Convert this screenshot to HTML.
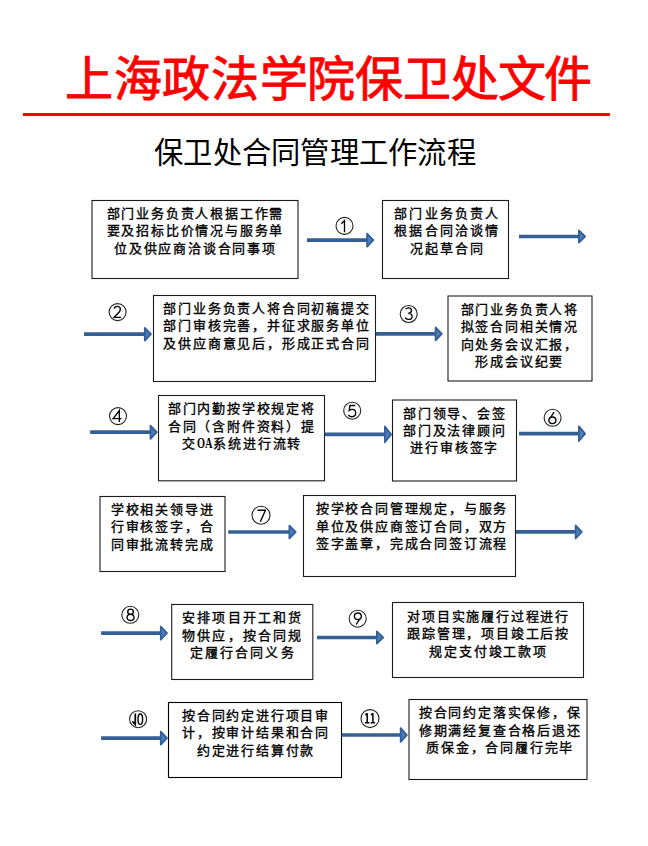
<!DOCTYPE html>
<html lang="zh-CN"><head><meta charset="utf-8"><title>保卫处合同管理工作流程</title>
<style>
html,body{margin:0;padding:0;background:#fff;}
body{width:648px;height:846px;position:relative;overflow:hidden;font-family:"Liberation Serif",serif;}
#title{position:absolute;left:64px;top:50px;font-size:48px;line-height:60px;color:#f00;font-weight:normal;-webkit-text-stroke:0.9px #f00;font-family:"Liberation Serif",serif;white-space:nowrap;}
#rule{position:absolute;left:23px;top:113px;width:587px;height:3px;background:#f00;}
#sub{position:absolute;left:154px;top:135px;letter-spacing:0.25px;font-size:29.33px;line-height:36px;color:#000;font-family:"Liberation Sans",sans-serif;white-space:nowrap;}
.txt{position:absolute;font-size:13.00px;line-height:17.40px;font-weight:400;letter-spacing:1.8px;-webkit-text-stroke:0.35px #000;text-align:center;color:#000;white-space:nowrap;font-family:"Liberation Serif",serif;}
svg{position:absolute;left:0;top:0;}
.oa{display:inline-block;width:17px;letter-spacing:0;vertical-align:top;overflow:visible;white-space:nowrap;text-align:left;}
.oa span{display:inline-block;font-family:"Liberation Serif",serif;font-weight:bold;font-size:14.5px;-webkit-text-stroke:0;transform:scaleX(0.71);transform-origin:0 0;margin-left:0.9px;}
</style></head><body>
<div id="title"><span style="position:relative;left:1.05px">上</span><span style="position:relative;left:1.50px">海</span><span style="position:relative;left:2.30px">政</span><span style="position:relative;left:3.45px">法</span><span style="position:relative;left:4.10px">学</span><span style="position:relative;left:2.95px">院</span><span style="position:relative;left:2.55px">保</span><span style="position:relative;left:2.50px">卫</span><span style="position:relative;left:2.70px">处</span><span style="position:relative;left:1.65px">文</span><span style="position:relative;left:-0.05px">件</span></div>
<div id="rule"></div>
<div id="sub">保卫处合同管理工作流程</div>

<div class="txt" style="left:65.45px;top:204.90px;width:260px">部门业务负责人根据工作需<br>要及招标比价情况与服务单<br>位及供应商洽谈合同事项</div>
<div class="txt" style="left:317.50px;top:204.75px;width:260px;letter-spacing:2.20px">部门业务负责人<br>根据合同洽谈情<br>况起草合同</div>
<div class="txt" style="left:136.95px;top:299.95px;width:260px">部门业务负责人将合同初稿提交<br>部门审核完善，并征求服务单位<br>及供应商意见后，形成正式合同</div>
<div class="txt" style="left:389.80px;top:300.80px;width:260px">部门业务负责人将<br>拟签合同相关情况<br>向处务会议汇报，<br>形成会议纪要</div>
<div class="txt" style="left:111.85px;top:400.10px;width:260px">部门内勤按学校规定将<br>合同（含附件资料）提<br>交<span class="oa"><span>OA</span></span>系统进行流转</div>
<div class="txt" style="left:324.85px;top:404.65px;width:260px">部门领导、会签<br>部门及法律顾问<br>进行审核签字</div>
<div class="txt" style="left:32.60px;top:501.00px;width:260px">学校相关领导进<br>行审核签字，合<br>同审批流转完成</div>
<div class="txt" style="left:282.00px;top:500.20px;width:260px">按学校合同管理规定，与服务<br>单位及供应商签订合同，双方<br>签字盖章，完成合同签订流程</div>
<div class="txt" style="left:112.77px;top:609.25px;width:260px;letter-spacing:2.15px">安排项目开工和货<br>物供应，按合同规<br>定履行合同义务</div>
<div class="txt" style="left:358.60px;top:607.85px;width:260px">对项目实施履行过程进行<br>跟踪管理，项目竣工后按<br>规定支付竣工款项</div>
<div class="txt" style="left:126.05px;top:706.70px;width:260px">按合同约定进行项目审<br>计，按审计结果和合同<br>约定进行结算付款</div>
<div class="txt" style="left:370.15px;top:704.20px;width:260px">按合同约定落实保修，保<br>修期满经复查合格后退还<br>质保金，合同履行完毕</div>
<svg width="648" height="846" viewBox="0 0 648 846">
<rect x="92.00" y="200.50" width="206.00" height="78.00" fill="none" stroke="#1c1c1c" stroke-width="1.1"/>
<rect x="382.50" y="200.50" width="126.00" height="78.00" fill="none" stroke="#1c1c1c" stroke-width="1.1"/>
<rect x="153.50" y="295.50" width="222.00" height="86.00" fill="none" stroke="#1c1c1c" stroke-width="1.1"/>
<rect x="448.00" y="296.00" width="144.00" height="85.00" fill="none" stroke="#1c1c1c" stroke-width="1.1"/>
<rect x="158.50" y="395.50" width="166.00" height="85.30" fill="none" stroke="#1c1c1c" stroke-width="1.1"/>
<rect x="392.50" y="400.00" width="124.00" height="81.00" fill="none" stroke="#1c1c1c" stroke-width="1.1"/>
<rect x="100.00" y="496.50" width="125.00" height="75.00" fill="none" stroke="#1c1c1c" stroke-width="1.1"/>
<rect x="303.50" y="495.50" width="212.00" height="81.00" fill="none" stroke="#1c1c1c" stroke-width="1.1"/>
<rect x="171.70" y="604.50" width="141.10" height="75.00" fill="none" stroke="#1c1c1c" stroke-width="1.1"/>
<rect x="392.50" y="602.50" width="191.00" height="75.00" fill="none" stroke="#1c1c1c" stroke-width="1.1"/>
<rect x="168.50" y="702.50" width="173.00" height="75.00" fill="none" stroke="#000" stroke-width="1.1"/>
<rect x="409.00" y="699.50" width="178.00" height="80.00" fill="none" stroke="#1c1c1c" stroke-width="1.1"/>
<path d="M307.0 240.2H367.2" stroke="#345f95" stroke-width="3.7" fill="none"/>
<path d="M367.1 233.7L373.3 240.2L367.1 246.7Z" fill="#4a7dbb" stroke="#365f96" stroke-width="1.8" stroke-linejoin="round"/>
<path d="M519.0 236.5H579.0" stroke="#345f95" stroke-width="3.7" fill="none"/>
<path d="M578.9 230.4L585.1 236.5L578.9 242.6Z" fill="#4a7dbb" stroke="#365f96" stroke-width="1.8" stroke-linejoin="round"/>
<path d="M84.0 334.2H144.9" stroke="#345f95" stroke-width="3.7" fill="none"/>
<path d="M144.8 327.8L151.0 334.2L144.8 340.6Z" fill="#4a7dbb" stroke="#365f96" stroke-width="1.8" stroke-linejoin="round"/>
<path d="M375.8 333.9H435.7" stroke="#345f95" stroke-width="3.7" fill="none"/>
<path d="M435.6 327.5L441.8 333.9L435.6 340.3Z" fill="#4a7dbb" stroke="#365f96" stroke-width="1.8" stroke-linejoin="round"/>
<path d="M90.2 432.2H150.6" stroke="#345f95" stroke-width="3.7" fill="none"/>
<path d="M150.5 425.6L156.7 432.2L150.5 438.8Z" fill="#4a7dbb" stroke="#365f96" stroke-width="1.8" stroke-linejoin="round"/>
<path d="M324.8 434.4H385.0" stroke="#345f95" stroke-width="3.7" fill="none"/>
<path d="M384.9 426.5L391.1 434.4L384.9 442.3Z" fill="#4a7dbb" stroke="#365f96" stroke-width="1.8" stroke-linejoin="round"/>
<path d="M519.0 433.7H579.0" stroke="#345f95" stroke-width="3.7" fill="none"/>
<path d="M578.9 426.4L585.1 433.7L578.9 441.0Z" fill="#4a7dbb" stroke="#365f96" stroke-width="1.8" stroke-linejoin="round"/>
<path d="M228.2 532.0H289.5" stroke="#345f95" stroke-width="3.7" fill="none"/>
<path d="M289.4 525.6L295.6 532.0L289.4 538.4Z" fill="#4a7dbb" stroke="#365f96" stroke-width="1.8" stroke-linejoin="round"/>
<path d="M516.0 531.9H575.7" stroke="#345f95" stroke-width="3.7" fill="none"/>
<path d="M575.6 525.5L581.8 531.9L575.6 538.3Z" fill="#4a7dbb" stroke="#365f96" stroke-width="1.8" stroke-linejoin="round"/>
<path d="M101.1 633.2H160.9" stroke="#345f95" stroke-width="3.7" fill="none"/>
<path d="M160.8 626.7L167.0 633.2L160.8 639.7Z" fill="#4a7dbb" stroke="#365f96" stroke-width="1.8" stroke-linejoin="round"/>
<path d="M317.0 637.5H377.0" stroke="#345f95" stroke-width="3.7" fill="none"/>
<path d="M376.9 631.4L383.1 637.5L376.9 643.6Z" fill="#4a7dbb" stroke="#365f96" stroke-width="1.8" stroke-linejoin="round"/>
<path d="M101.1 738.1H160.9" stroke="#345f95" stroke-width="3.7" fill="none"/>
<path d="M160.8 731.6L167.0 738.1L160.8 744.6Z" fill="#4a7dbb" stroke="#365f96" stroke-width="1.8" stroke-linejoin="round"/>
<path d="M341.7 735.0H400.8" stroke="#345f95" stroke-width="3.7" fill="none"/>
<path d="M400.7 728.1L406.9 735.0L400.7 741.9Z" fill="#4a7dbb" stroke="#365f96" stroke-width="1.8" stroke-linejoin="round"/>
<circle cx="344.5" cy="225.9" r="8.5" fill="none" stroke="#222" stroke-width="1.1"/>
<path transform="translate(340.20 220.20)" d="M1.2 3.6L4.3 0.4V12" fill="none" stroke="#000" stroke-width="1.35"/>
<circle cx="117.6" cy="312.1" r="8.5" fill="none" stroke="#222" stroke-width="1.1"/>
<path transform="translate(113.20 306.00)" d="M0.9 2.6C1.3 1 2.6 0.3 4 0.3C5.9 0.3 7.2 1.5 7.2 3.2C7.2 4.8 6.2 6 4.6 7.6L0.9 11.4H7.9" fill="none" stroke="#000" stroke-width="1.35"/>
<circle cx="408.7" cy="314.0" r="8.5" fill="none" stroke="#222" stroke-width="1.1"/>
<path transform="translate(404.60 307.60)" d="M0.9 1.6C1.6 0.7 2.7 0.3 3.9 0.3C5.7 0.3 6.9 1.4 6.9 3C6.9 4.6 5.6 5.7 3.6 5.7C5.9 5.7 7.5 6.9 7.5 8.8C7.5 10.6 6 11.8 3.9 11.8C2.4 11.8 1.1 11.2 0.4 10" fill="none" stroke="#000" stroke-width="1.35"/>
<circle cx="118.0" cy="416.1" r="8.5" fill="none" stroke="#222" stroke-width="1.1"/>
<path transform="translate(112.75 410.00)" d="M6.6 12V0.5L0.4 8.6H8.6" fill="none" stroke="#000" stroke-width="1.35"/>
<circle cx="352.2" cy="410.7" r="8.5" fill="none" stroke="#222" stroke-width="1.1"/>
<path transform="translate(348.00 405.00)" d="M7.2 0.5H2L1.2 5.4C1.9 4.8 3 4.4 4.1 4.4C6.3 4.4 7.7 5.9 7.7 8C7.7 10.2 6.1 11.7 3.9 11.7C2.4 11.7 1.1 11 0.4 9.8" fill="none" stroke="#000" stroke-width="1.35"/>
<circle cx="552.6" cy="417.8" r="8.5" fill="none" stroke="#222" stroke-width="1.1"/>
<path transform="translate(548.30 411.80)" d="M5.8 0.3L1.6 6.6M4.1 5.2C6.1 5.2 7.6 6.6 7.6 8.5C7.6 10.4 6.1 11.8 4.1 11.8C2.1 11.8 0.6 10.4 0.6 8.5C0.6 6.6 2.1 5.2 4.1 5.2Z" fill="none" stroke="#000" stroke-width="1.35"/>
<circle cx="261.0" cy="515.3" r="9.0" fill="none" stroke="#222" stroke-width="1.1"/>
<path transform="translate(257.15 509.60)" d="M0.4 0.6H8.3L3.2 12" fill="none" stroke="#000" stroke-width="1.35"/>
<circle cx="130.3" cy="614.8" r="8.5" fill="none" stroke="#222" stroke-width="1.1"/>
<path transform="translate(126.55 608.85)" d="M4 0.3C5.6 0.3 6.8 1.3 6.8 2.8C6.8 4.3 5.6 5.4 4 5.4C2.4 5.4 1.2 4.3 1.2 2.8C1.2 1.3 2.4 0.3 4 0.3ZM4 5.4C6 5.4 7.5 6.6 7.5 8.6C7.5 10.5 6 11.7 4 11.7C2 11.7 0.5 10.5 0.5 8.6C0.5 6.6 2 5.4 4 5.4Z" fill="none" stroke="#000" stroke-width="1.35"/>
<circle cx="357.7" cy="618.7" r="8.5" fill="none" stroke="#222" stroke-width="1.1"/>
<path transform="translate(353.95 612.80)" d="M2.2 11.7L6.4 5.4M3.9 6.8C1.9 6.8 0.4 5.4 0.4 3.5C0.4 1.6 1.9 0.2 3.9 0.2C5.9 0.2 7.4 1.6 7.4 3.5C7.4 5.4 5.9 6.8 3.9 6.8Z" fill="none" stroke="#000" stroke-width="1.35"/>
<circle cx="138.1" cy="719.2" r="8.5" fill="none" stroke="#222" stroke-width="1.1"/>
<path d="M135.3 713.4V724.6L132.4 721.4" fill="none" stroke="#000" stroke-width="1.7"/>
<ellipse cx="140.3" cy="719.2" rx="2.3" ry="5.2" fill="none" stroke="#000" stroke-width="1.4"/>
<circle cx="370.0" cy="718.6" r="9.0" fill="none" stroke="#222" stroke-width="1.1"/>
<path d="M367.2 713.2V722.6M365.0 722.7H369.4M367.2 713.4L365.3 714.9M372.9 713.2V722.6M370.7 722.7H375.1M372.9 713.4L371.0 714.9" fill="none" stroke="#000" stroke-width="1.5"/>
</svg>
</body></html>
